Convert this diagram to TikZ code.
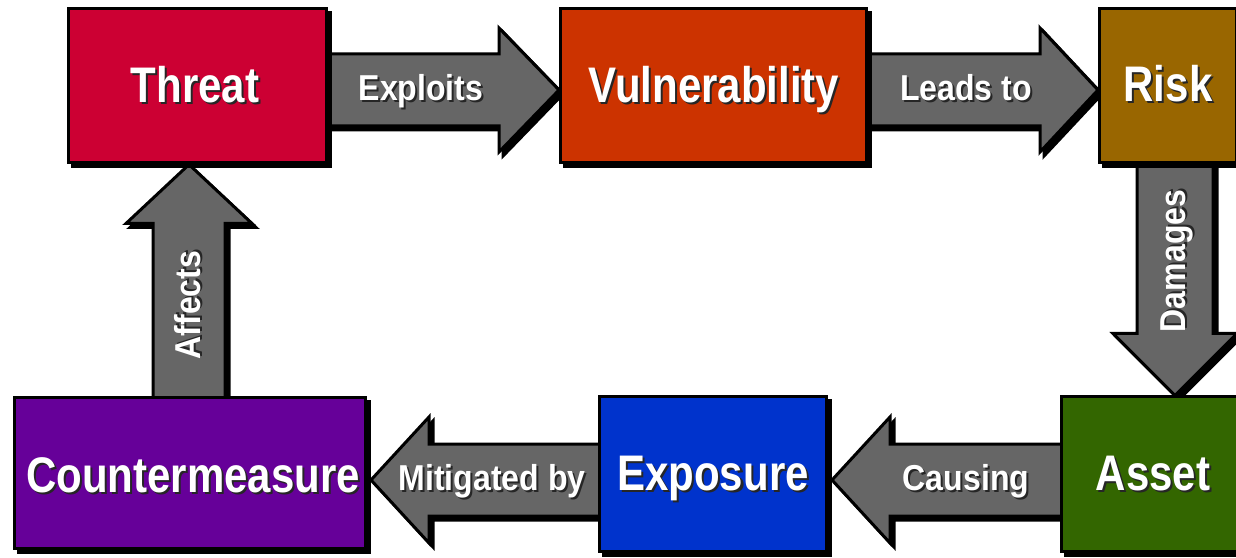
\documentclass[tikz,border=0pt]{standalone}
\usepackage{fontspec}
\setmainfont{Liberation Sans}
\newfontfamily\boxfont[FakeStretch=0.84]{Liberation Sans}
\newfontfamily\tagfont[FakeStretch=0.89]{Liberation Sans}
\usetikzlibrary{calc,shadows,backgrounds}

\definecolor{threatc}{HTML}{CC0033}
\definecolor{vulnc}{HTML}{CC3300}
\definecolor{riskc}{HTML}{996600}
\definecolor{assetc}{HTML}{336600}
\definecolor{exposc}{HTML}{0033CC}
\definecolor{counterc}{HTML}{660099}
\definecolor{arrowgray}{HTML}{666666}

% white lettering with a dark offset copy underneath
\newcommand\shtext[1]{\rlap{\kern2pt\raisebox{-2pt}{\textcolor{black!85}{#1}}}\textcolor{white}{#1}}

\tikzset{
  hardshadow/.style={general shadow={fill=black, draw=black, line width=3pt,
      shadow xshift=4pt, shadow yshift=-4pt}},
  box/.style={draw=black, line width=3pt, inner sep=0pt, hardshadow},
  fatarrow/.style={fill=arrowgray, draw=black, line width=3pt, line join=miter, hardshadow},
  boxlabel/.style={anchor=base, inner sep=0pt,
      font=\boxfont\bfseries\fontsize{50}{50}\selectfont},
  taglabel/.style={anchor=base, inner sep=0pt,
      font=\tagfont\bfseries\fontsize{36}{36}\selectfont}
}

\begin{document}
\begin{tikzpicture}[x=1pt,y=1pt]
\useasboundingbox (0,0) rectangle (1236,557);
\clip (0,0) rectangle (1236,557);

% the six concepts
\node[box, fill=threatc,  minimum width=258, minimum height=154] (threat)   at (197.5,471) {};
\node[box, fill=vulnc,    minimum width=306, minimum height=154] (vuln)     at (713.5,471) {};
\node[box, fill=riskc,    minimum width=137, minimum height=154] (risk)     at (1168,471) {};
\node[box, fill=assetc,   minimum width=183, minimum height=154] (asset)    at (1153,83) {};
\node[box, fill=exposc,   minimum width=227, minimum height=155] (exposure) at (713,83) {};
\node[box, fill=counterc, minimum width=351, minimum height=151] (counter)  at (190,84) {};

\node[boxlabel] (threatlbl)   at (195,454)  {\shtext{Threat}};
\node[boxlabel] (vulnlbl)     at (714,454)  {\shtext{Vulnerability}};
\node[boxlabel] (risklbl)     at (1168,455) {\shtext{Risk}};
\node[boxlabel] (assetlbl)    at (1153,67)  {\shtext{Asset}};
\node[boxlabel] (exposlbl)    at (713,67)   {\shtext{Exposure}};
\node[boxlabel] (counterlbl)  at (193,65)   {\shtext{Countermeasure}};

% block arrows behind the boxes
\begin{pgfonlayer}{background}
\fill[white] (0,0) rectangle (1236,557);

% Threat -> Vulnerability
\draw[fatarrow] let \p1=(threat.east), \p2=(vuln.west) in
  (\x1-4pt,503pt) -- (\x2-60pt,503pt) -- (\x2-60pt,529pt) -- (\x2,467pt)
  -- (\x2-60pt,405pt) -- (\x2-60pt,431pt) -- (\x1-4pt,431pt) -- cycle;
% Vulnerability -> Risk
\draw[fatarrow] let \p1=(vuln.east), \p2=(risk.west) in
  (\x1-4pt,503pt) -- (\x2-58pt,503pt) -- (\x2-58pt,529pt) -- (\x2,467pt)
  -- (\x2-58pt,405pt) -- (\x2-58pt,431pt) -- (\x1-4pt,431pt) -- cycle;
% Risk -> Asset
\draw[fatarrow] let \p1=(risk.south), \p2=(asset.north) in
  (1137pt,\y1+4pt) -- (1137pt,\y2+62pt) -- (1113pt,\y2+62pt) -- (1175pt,\y2)
  -- (1237pt,\y2+62pt) -- (1213pt,\y2+62pt) -- (1213pt,\y1+4pt) -- cycle;
% Asset -> Exposure
\draw[fatarrow] let \p1=(asset.west), \p2=(exposure.east) in
  (\x1+4pt,113pt) -- (\x2+62pt,113pt) -- (\x2+62pt,140pt) -- (\x2+4pt,77pt)
  -- (\x2+62pt,14pt) -- (\x2+62pt,41pt) -- (\x1+4pt,41pt) -- cycle;
% Exposure -> Countermeasure
\draw[fatarrow] let \p1=(exposure.west), \p2=(counter.east) in
  (\x1+4pt,113pt) -- (\x2+62pt,113pt) -- (\x2+62pt,140pt) -- (\x2+4pt,77pt)
  -- (\x2+62pt,14pt) -- (\x2+62pt,41pt) -- (\x1+4pt,41pt) -- cycle;
% Countermeasure -> Threat
\draw[fatarrow] let \p1=(counter.north), \p2=(threat.south) in
  (153pt,\y1-4pt) -- (153pt,\y2-59pt) -- (126pt,\y2-59pt) -- (189pt,\y2)
  -- (252pt,\y2-59pt) -- (225pt,\y2-59pt) -- (225pt,\y1-4pt) -- cycle;
\end{pgfonlayer}

% arrow captions
\node[taglabel] (exploitslbl) at (421,456) {\shtext{Exploits}};
\node[taglabel] (leadslbl)    at (966,456) {\shtext{Leads to}};
\node[taglabel, rotate=90] (damageslbl) at (1185,296) {\shtext{Damages}};
\node[taglabel] (causinglbl)  at (966,67)  {\shtext{Causing}};
\node[taglabel] (mitiglbl)    at (492,67)  {\shtext{Mitigated by}};
\node[taglabel, rotate=90] (affectslbl) at (200,252) {\shtext{Affects}};
\end{tikzpicture}
\end{document}
